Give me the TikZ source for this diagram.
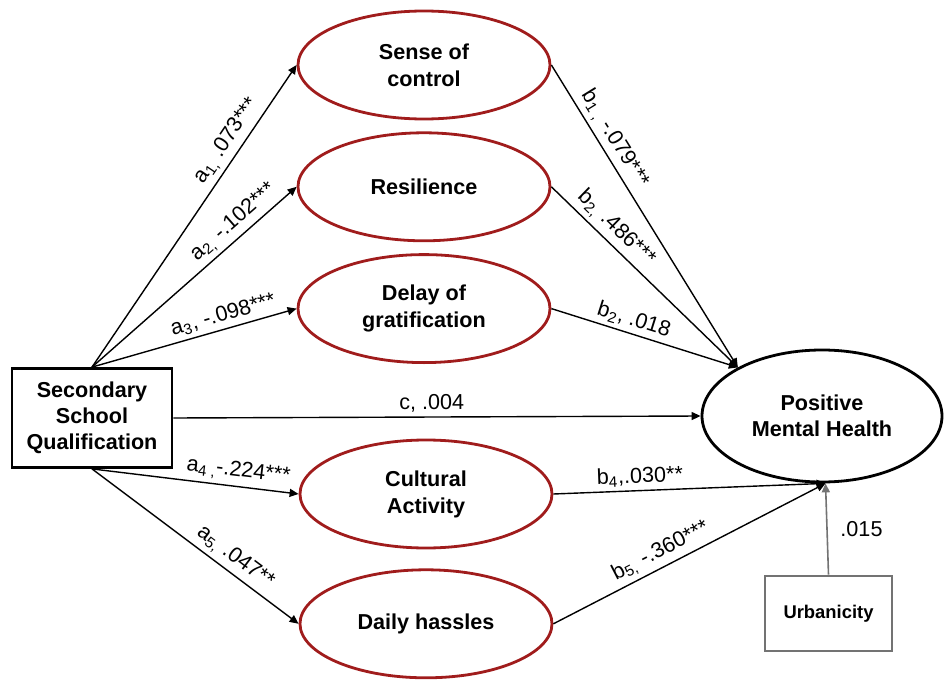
\documentclass[tikz,border=0pt]{standalone}
\usepackage{fontspec}
\setmainfont{Liberation Sans}
\usepackage{tikz}
\usetikzlibrary{arrows.meta, positioning, shapes.geometric}
\usepackage{xcolor}
\definecolor{medred}{HTML}{A01C1C}
\definecolor{urbgray}{HTML}{737373}

\begin{document}
\begin{tikzpicture}[x=0.5pt, y=-0.5pt, >={Triangle[length=4.5pt, width=4pt]},
    mediator/.style={draw=medred, line width=1.4pt, ellipse, minimum width=126pt, minimum height=54pt, inner sep=0pt, align=center, font=\bfseries\fontsize{10.8}{13.5}\selectfont},
    outcome/.style={draw, line width=1.4pt, ellipse, minimum width=120pt, minimum height=66pt, inner sep=0pt, align=center, font=\bfseries\fontsize{10.8}{13}\selectfont},
    predictor/.style={draw, line width=1.4pt, rectangle, minimum width=80pt, minimum height=49.5pt, inner sep=0pt, align=center, font=\bfseries\fontsize{10.8}{13}\selectfont},
    covar/.style={draw=urbgray, line width=1.4pt, rectangle, minimum width=63.5pt, minimum height=37.5pt, inner sep=0pt, font=\bfseries\fontsize{9.2}{11}\selectfont},
    path/.style={->, line width=0.7pt},
    coef/.style={font=\fontsize{10.8}{12}\selectfont, sloped, above, inner sep=2pt}]
    \useasboundingbox (0,0) rectangle (944,680);
    \node[predictor] (SSQ) at (92,418) {Secondary\\School\\Qualification};
    \node[mediator] (Ctrl) at (424,65) {Sense of\\control};
    \node[mediator] (Resil) [below=5.5pt of Ctrl] {Resilience};
    \node[mediator] (Delay) [below=5.5pt of Resil] {Delay of\\gratification};
    \node[mediator] (Cult) at (426,494) {Cultural\\Activity};
    \node[mediator] (Hassle) [below=9.5pt of Cult] {Daily hassles};
    \node[outcome] (PMH) at (822,416) {Positive\\Mental Health};
    \node[covar] (Urban) at (828.5,613.5) {Urbanicity};
    % a paths
    \draw[path] (SSQ.north) -- node[coef, pos=0.72] {a\textsubscript{1,} .073***} (Ctrl.west);
    \draw[path] (SSQ.north) -- node[coef, pos=0.74] {a\textsubscript{2,} -.102***} (Resil.west);
    \draw[path] (SSQ.north) -- node[coef, pos=0.66] {a\textsubscript{3}, -.098***} (Delay.west);
    \draw[path] (SSQ.south) -- node[coef, pos=0.7] {a\textsubscript{4 ,}-.224***} (Cult.west);
    \draw[path] (SSQ.south) -- node[coef, pos=0.65] {a\textsubscript{5,} .047**} (Hassle.west);
    % direct path
    \draw[path] (SSQ.east) -- node[coef, pos=0.49] {c, .004} (PMH.west);
    % b paths
    \draw[path] (Ctrl.east) -- node[coef, pos=0.27] {b\textsubscript{1 ,} -.079***} (PMH.150);
    \draw[path] (Resil.east) -- node[coef, pos=0.29] {b\textsubscript{2,} .486***} (PMH.150);
    \draw[path] (Delay.east) -- node[coef, pos=0.42] {b\textsubscript{2}, .018} (PMH.150);
    \draw[path] (Cult.east) -- node[coef, pos=0.32] {b\textsubscript{4},.030**} (PMH.-87);
    \draw[path] (Hassle.east) -- node[coef, pos=0.42] {b\textsubscript{5,} -.360***} (PMH.-87);
    % covariate
    \draw[path, draw=urbgray, line width=0.8pt, >={Triangle[length=4.5pt, width=4pt, fill=urbgray]}] (Urban.north) -- node[right=3pt, font=\fontsize{10.8}{12}\selectfont, text=black] {.015} (PMH.-87);
\end{tikzpicture}
\end{document}
